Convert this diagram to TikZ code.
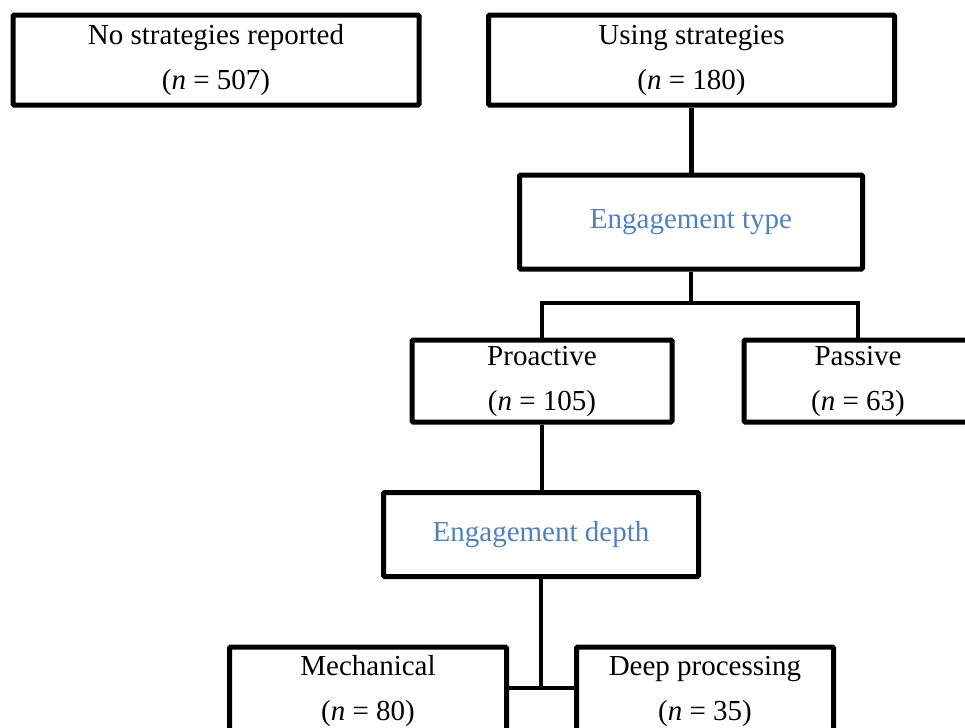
\documentclass[tikz,border=0pt]{standalone}
\usepackage{fontspec}
\setmainfont{Liberation Serif}
\usepackage{xcolor}
\usetikzlibrary{positioning,calc}
\definecolor{headblue}{RGB}{79,129,189}
\tikzset{
  box/.style={draw, line width=2.5pt, inner sep=0pt, align=center, rounded corners=0.6pt},
  link/.style={line width=2.3pt},
}
\begin{document}
\begin{tikzpicture}[x=0.5pt, y=-0.5pt, font=\fontsize{14.5}{22.5}\selectfont]
  \clip (0,0) rectangle (965,728);
  % count boxes
  \foreach \nm/\x/\y/\w/\hgt/\txt/\cnt in {nostrat/216/60/406/90/No strategies reported/507,
      using/691.5/60/406/90/Using strategies/180,
      proactive/542/381/260/82/Proactive/105,
      passive/858/381/228/82/Passive/63,
      mech/368/691/277/88/Mechanical/80,
      deep/705/691/257/88/Deep processing/35}
    \node (\nm) at (\x,\y) [box, minimum width=\w*0.5pt, minimum height=\hgt*0.5pt] {\txt\\(\textit{n} = \cnt)};
  % category boxes
  \node (etype) at (691,222) [box, text=headblue, minimum width=171.5pt, minimum height=47pt] {Engagement type};
  \node (edepth) at (541,534.5) [box, text=headblue, minimum width=157.5pt, minimum height=42pt] {Engagement depth};
  \coordinate (fork1) at (691,303);
  \coordinate (fork2) at (541,688);
  \draw[link] (using.south) -- (using.south |- etype.north);
  \draw[link] (etype.south) -- (fork1);
  \draw[link] (proactive.north) |- (fork1) -| (passive.north);
  \draw[link] (proactive.south) -- (proactive.south |- edepth.north);
  \draw[link] (edepth.south) -- (fork2);
  \draw[link] (mech.east |- fork2) -- (deep.west |- fork2);
\end{tikzpicture}
\end{document}
